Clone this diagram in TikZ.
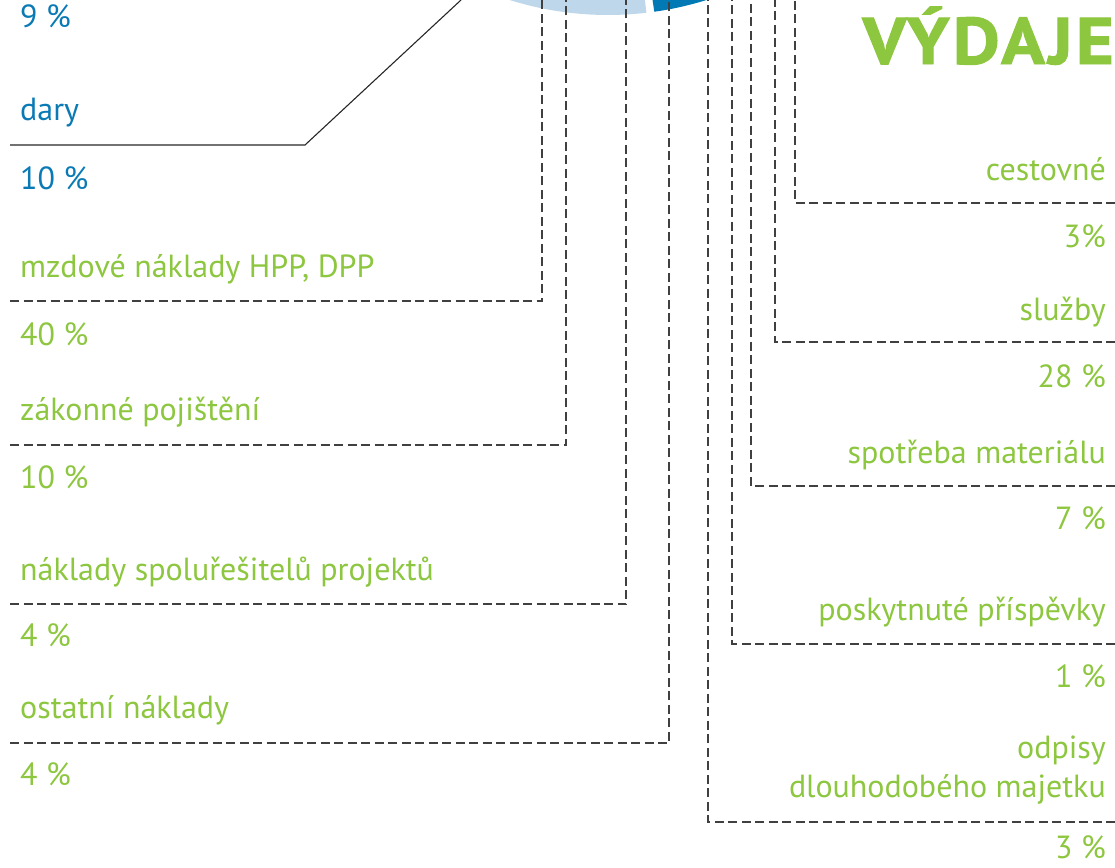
\documentclass[tikz,border=0pt]{standalone}
\usepackage{fontspec}
\setmainfont{PT Sans}
\definecolor{txtblue}{HTML}{0A7AB5}
\definecolor{txtgreen}{HTML}{8DC63F}
\definecolor{arclight}{HTML}{BED7EA}
\definecolor{arcdark}{HTML}{0079B5}
\definecolor{leadgray}{HTML}{404040}
\tikzset{
  lbl/.style={inner sep=0pt, font=\fontsize{32}{38}\selectfont},
  lblL/.style={lbl, anchor=base west},
  lblR/.style={lbl, anchor=base east, align=right},
  lead/.style={draw=leadgray, line width=1.3pt, dash pattern=on 9pt off 4.5pt},
  solidlead/.style={draw=black!85, line width=1.1pt}
}
\begin{document}
\begin{tikzpicture}[x=1pt,y=-1pt]
\useasboundingbox (0,0) rectangle (1115,867);
\begin{scope}
\clip (0,0) rectangle (1115,867);
% donut fragments
\coordinate (ctr) at (608,-316);
\draw[arclight, line width=60pt] (ctr) ++(83.3:301) arc[start angle=83.3, end angle=150, radius=301];
\draw[arcdark, line width=60pt] (ctr) ++(82.0:301) arc[start angle=82.0, end angle=30, radius=301];
\end{scope}

% ---------- left labels ----------
\node[lblL, text=txtblue] (p9) at (20,28) {9 \%};
\node[lblL, text=txtblue] (dary) at (20,120) {dary};
\node[lblL, text=txtblue] (p10a) at (20,189) {10 \%};
\node[lblL, text=txtgreen] (mzd) at (20,277) {mzdové náklady HPP, DPP};
\node[lblL, text=txtgreen] (p40) at (20,345) {40 \%};
\node[lblL, text=txtgreen] (zak) at (20,420) {zákonné pojištění};
\node[lblL, text=txtgreen] (p10b) at (20,488) {10 \%};
\node[lblL, text=txtgreen] (spol) at (20,580) {náklady spoluřešitelů projektů};
\node[lblL, text=txtgreen] (p4a) at (20,646) {4 \%};
\node[lblL, text=txtgreen] (ost) at (20,718) {ostatní náklady};
\node[lblL, text=txtgreen] (p4b) at (20,785) {4 \%};

% ---------- right labels ----------
\node[inner sep=0pt, anchor=base east, text=txtgreen, font=\fontsize{66}{66}\selectfont\bfseries\addfontfeatures{FakeBold=1.5,FakeStretch=1.1,LetterSpace=5}] (vyd) at (1114,64) {VÝDAJE};
\node[lblR, text=txtgreen] (ces) at (1106,180) {cestovné};
\node[lblR, text=txtgreen] (p3a) at (1106,247) {3\%};
\node[lblR, text=txtgreen] (slu) at (1106,320) {služby};
\node[lblR, text=txtgreen] (p28) at (1106,387) {28 \%};
\node[lblR, text=txtgreen] (spo) at (1106,463) {spotřeba materiálu};
\node[lblR, text=txtgreen] (p7) at (1106,529) {7 \%};
\node[lblR, text=txtgreen] (pos) at (1106,620) {poskytnuté příspěvky};
\node[lblR, text=txtgreen] (p1) at (1106,687) {1 \%};
\node[lblR, text=txtgreen] (odp1) at (1106,758) {odpisy};
\node[lblR, text=txtgreen] (odp2) at (1106,797) {dlouhodobého majetku};
\node[lblR, text=txtgreen] (p3b) at (1106,858) {3 \%};

% ---------- leader coordinates ----------
\coordinate (dA) at (10,145);  \coordinate (dB) at (305,145);  \coordinate (dC) at (461,0);
\coordinate (mA) at (10,301);  \coordinate (mB) at (542,301);  \coordinate (mC) at (542,0);
\coordinate (zA) at (10,445);  \coordinate (zB) at (566,445);  \coordinate (zC) at (566,0);
\coordinate (sA) at (10,604);  \coordinate (sB) at (626,604);  \coordinate (sC) at (626,0);
\coordinate (oA) at (10,743);  \coordinate (oB) at (669,743);  \coordinate (oC) at (669,0);

\coordinate (cA) at (1115,203); \coordinate (cB) at (795,203); \coordinate (cC) at (795,0);
\coordinate (lA) at (1115,342); \coordinate (lB) at (775,342); \coordinate (lC) at (775,0);
\coordinate (tA) at (1115,486); \coordinate (tB) at (751,486); \coordinate (tC) at (751,0);
\coordinate (kA) at (1115,644); \coordinate (kB) at (732,644); \coordinate (kC) at (732,0);
\coordinate (eA) at (1115,822); \coordinate (eB) at (708,822); \coordinate (eC) at (708,0);

\draw[solidlead] (dA) -- (dB) -- (dC);
\draw[lead] (mA) -- (mB) -- (mC);
\draw[lead] (zA) -- (zB) -- (zC);
\draw[lead] (sA) -- (sB) -- (sC);
\draw[lead] (oA) -- (oB) -- (oC);
\draw[lead] (cA) -- (cB) -- (cC);
\draw[lead] (lA) -- (lB) -- (lC);
\draw[lead] (tA) -- (tB) -- (tC);
\draw[lead] (kA) -- (kB) -- (kC);
\draw[lead] (eA) -- (eB) -- (eC);
\end{tikzpicture}
\end{document}
